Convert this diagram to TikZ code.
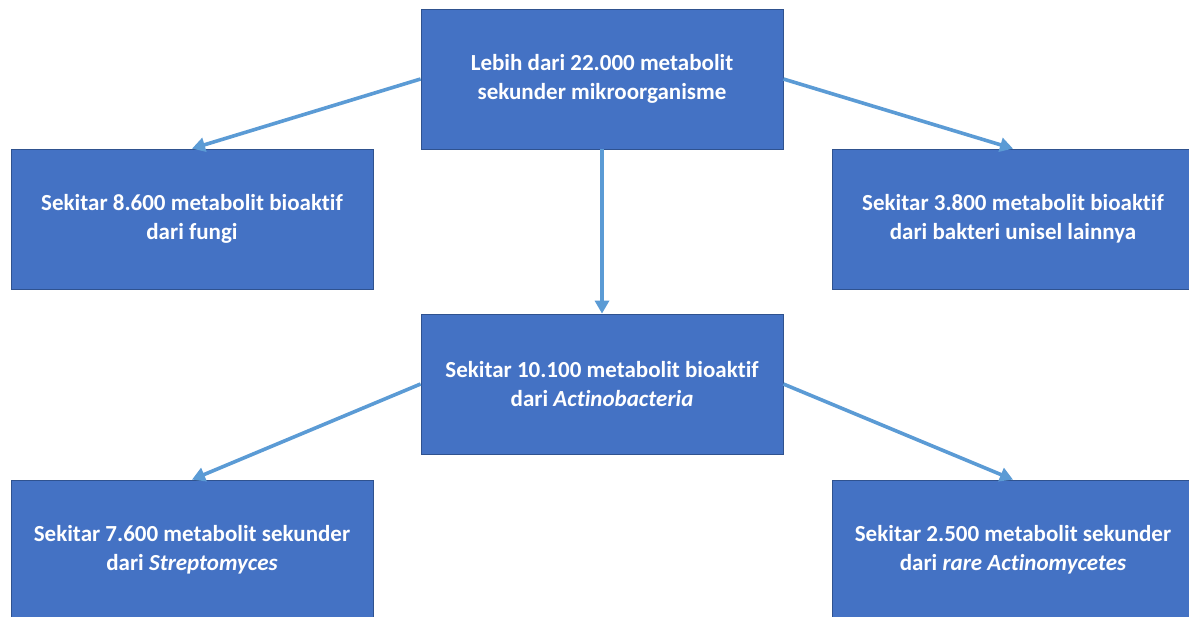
\documentclass[tikz,border=0pt]{standalone}
\usepackage{fontspec}
\setmainfont{Carlito}[BoldFont=Carlito Bold, BoldItalicFont=Carlito Bold Italic, ItalicFont=Carlito Italic, RawFeature=-liga]
\usetikzlibrary{arrows.meta}
\definecolor{boxfill}{HTML}{4472C4}
\definecolor{boxline}{HTML}{2F528F}
\definecolor{arrowcol}{HTML}{5B9BD5}
\tikzset{
  box/.style={draw=boxline, line width=0.8pt, fill=boxfill, minimum width=362pt, minimum height=140pt,
    inner sep=0pt, align=center, text=white, font=\fontsize{23}{29}\selectfont\bfseries},
  conn/.style={draw=arrowcol, line width=3.6pt, -{Triangle[length=13pt,width=14pt]}}
}
\newcommand{\bi}[1]{{\bfseries\itshape #1}}
\begin{document}
\begin{tikzpicture}[x=1pt,y=-1pt]
\useasboundingbox (0,0) rectangle (1189,617);
\clip (0,0) rectangle (1189,617);
\fill[white] (0,0) rectangle (1189,617);
\node[box] (top) at (602,79) {Lebih dari 22.000 metabolit\\sekunder mikroorganisme};
\node[box] (left) at (192,219) {Sekitar 8.600 metabolit bioaktif\\dari fungi};
\node[box] (right) at (1013,219) {Sekitar 3.800 metabolit bioaktif\\dari bakteri unisel lainnya};
\node[box] (mid) at (602,384) {Sekitar 10.100 metabolit bioaktif\\dari \bi{Actinobacteria}};
\node[box] (bl) at (192,550) {Sekitar 7.600 metabolit sekunder\\dari \bi{Streptomyces}};
\node[box] (br) at (1013,550) {Sekitar 2.500 metabolit sekunder\\dari \bi{rare Actinomycetes}};
\draw[conn] (top.west) -- (left.north);
\draw[conn] (top.east) -- (right.north);
\draw[conn] (top.south) -- (mid.north);
\draw[conn] (mid.west) -- (bl.north);
\draw[conn] (mid.east) -- (br.north);
\end{tikzpicture}
\end{document}
